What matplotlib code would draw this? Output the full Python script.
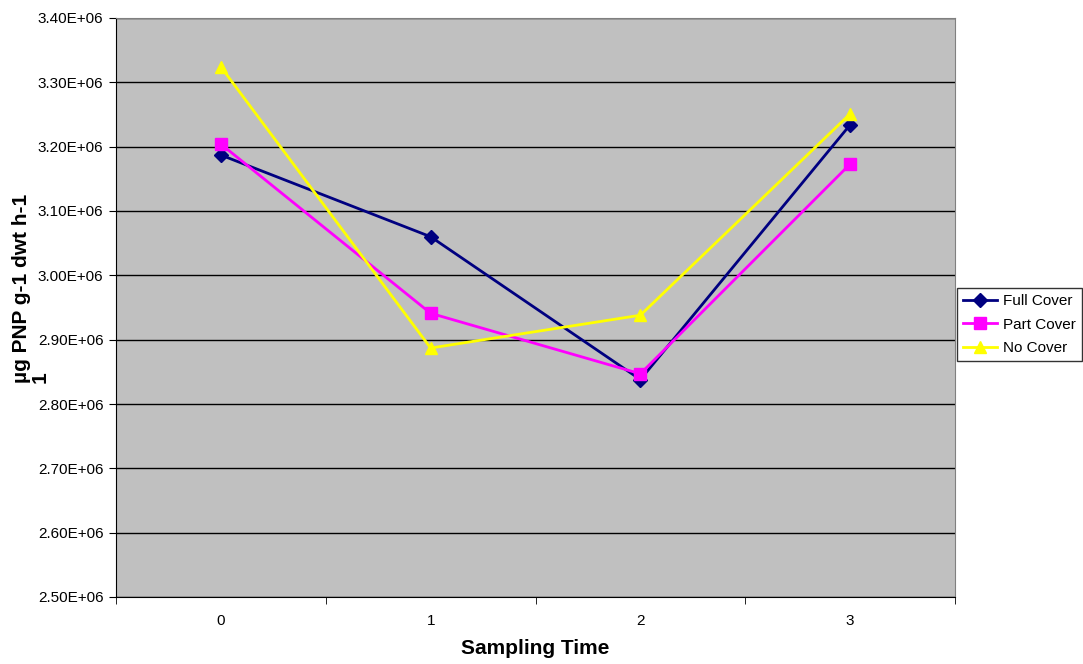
import numpy as np
import matplotlib
matplotlib.use('Agg')
import matplotlib.pyplot as plt

plt.rcParams['font.family'] = ['Liberation Sans', 'DejaVu Sans']

times = [0, 1, 2, 3]
full_cover = [3.187e6, 3.060e6, 2.838e6, 3.234e6]
part_cover = [3.204e6, 2.941e6, 2.847e6, 3.173e6]
no_cover = [3.324e6, 2.887e6, 2.938e6, 3.251e6]
yticks = np.arange(2.5e6, 3.4e6 + 1, 0.1e6)

fig = plt.figure(figsize=(10.83, 6.64), dpi=100)
ax = fig.add_axes([116/1083, 1-597/664, (955-116)/1083, (597-18)/664])
ax.set_facecolor('#C0C0C0')

x = np.arange(len(times))
ax.plot(x, full_cover, color='#000080', marker='D', ms=7, lw=2, label='Full Cover', zorder=3)
ax.plot(x, part_cover, color='#FF00FF', marker='s', ms=8, lw=2, label='Part Cover', zorder=3)
ax.plot(x, no_cover, color='#FFFF00', marker='^', ms=9, lw=2, label='No Cover', zorder=3)

ax.set_xlim(-0.5, len(times) - 0.5)
ax.set_ylim(2.5e6, 3.4e6)
ax.set_yticks(yticks)
ax.set_yticklabels(['%.2fE+06' % (v / 1e6) for v in yticks], fontsize=11)
ax.yaxis.grid(True, color='black', lw=1)
ax.set_axisbelow(True)

ax.set_xticks(x)
ax.set_xticklabels([str(t) for t in times], fontsize=11)
ax.tick_params(axis='x', length=0, pad=12)
ax.set_xticks(np.arange(-0.5, len(times), 1), minor=True)
ax.tick_params(axis='x', which='minor', length=5, direction='out', color='black')
ax.tick_params(axis='y', length=5, direction='out', color='black', pad=4)

for s in ['top', 'right']:
    ax.spines[s].set_color('#808080')
for s in ['left', 'bottom']:
    ax.spines[s].set_color('black')

ax.set_xlabel('Sampling Time', fontsize=15, fontweight='bold', labelpad=8)
# y label wraps in the original: the last "1" sits on a second line
fig.text(0.0195, 1-383/664, 'µg PNP g-1 dwt h-1', rotation=90, fontsize=15,
         fontweight='bold', ha='center', va='bottom')
fig.text(0.0375, 1-383/664, '1', rotation=90, fontsize=15,
         fontweight='bold', ha='center', va='bottom')

leg = fig.legend(loc='upper left', bbox_to_anchor=(957/1083, 1-288/664), fontsize=11,
                 frameon=True, fancybox=False, edgecolor='black', borderpad=0.4,
                 handlelength=2.2, labelspacing=0.62, handletextpad=0.4, borderaxespad=0)
leg.get_frame().set_linewidth(1)

fig.savefig('out.png', dpi=100)
